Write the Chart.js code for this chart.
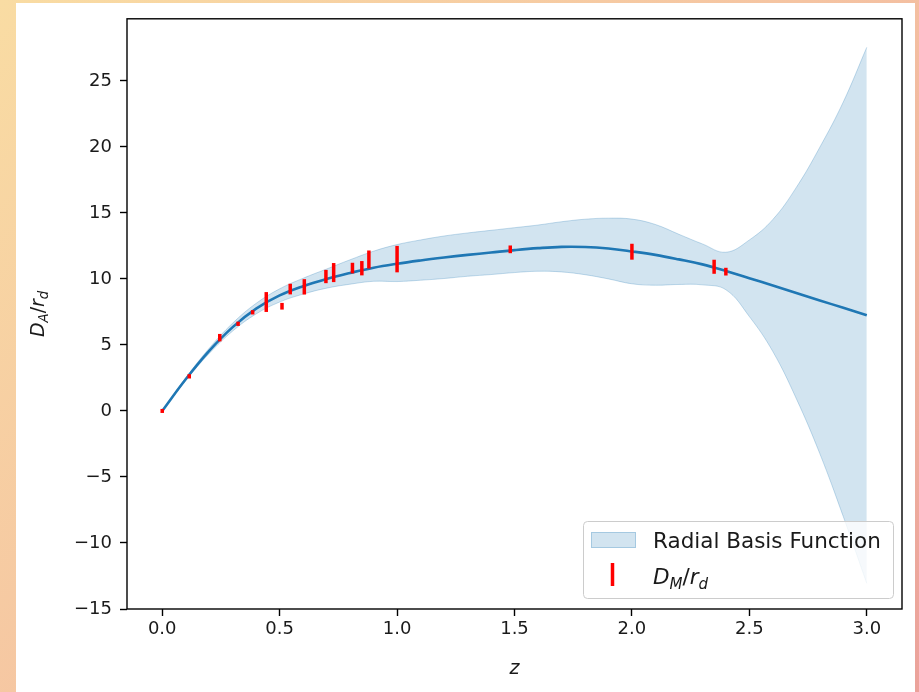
<!DOCTYPE html>
<html>
<head>
<meta charset="utf-8">
<script src="https://cdn.jsdelivr.net/npm/chart.js@4.4.1/dist/chart.umd.min.js"></script>
<style>
  html, body { margin: 0; padding: 0; }
  body {
    width: 919px; height: 692px; overflow: hidden; position: relative;
    background: linear-gradient(135deg, #f9dca3 0%, #f5c4a2 50%, #eba29b 100%);
  }
  #panel { position: absolute; left: 16px; top: 3px; width: 899px; height: 689px; background: #fff; }
  #chart { position: absolute; left: 0; top: 0; }
</style>
</head>
<body>
<div id="panel"></div>
<canvas id="chart" width="919" height="692"></canvas>
<script>
// redshift grid of the RBF reconstruction
const zGrid = [0.0, 0.1, 0.2, 0.3, 0.4, 0.5, 0.6, 0.7, 0.8, 0.9, 1.0,
               1.1, 1.2, 1.3, 1.4, 1.5, 1.6, 1.7, 1.8, 1.9, 2.0,
               2.1, 2.2, 2.3, 2.4, 2.5, 2.6, 2.7, 2.8, 2.9, 3.0];
// mean D_A/r_d
const rbfMean = [0.0, 2.4, 4.55, 6.35, 7.75, 8.75, 9.45, 10.0, 10.45, 10.85, 11.15,
                 11.4, 11.62, 11.82, 12.0, 12.18, 12.33, 12.43, 12.42, 12.3, 12.08,
                 11.82, 11.48, 11.1, 10.6, 10.05, 9.5, 8.93, 8.37, 7.81, 7.24];
// confidence band
const rbfUpper = [0.0, 2.5, 4.75, 6.65, 8.15, 9.25, 10.05, 10.75, 11.45, 12.1, 12.6,
                  12.95, 13.25, 13.48, 13.68, 13.88, 14.08, 14.33, 14.52, 14.6, 14.53,
                  14.12, 13.38, 12.65, 12.02, 12.95, 14.5, 16.93, 19.97, 23.4, 27.54];
const rbfLower = [0.0, 2.3, 4.35, 6.05, 7.35, 8.25, 8.85, 9.3, 9.6, 9.82, 9.8,
                  9.9, 10.03, 10.2, 10.33, 10.48, 10.58, 10.53, 10.32, 10.0, 9.63,
                  9.52, 9.58, 9.55, 9.18, 7.15, 4.5, 0.93, -3.23, -8.0, -13.06];

// BAO measurements D_M/r_d with 1-sigma errors
const obsZ   = [0.0, 0.115, 0.245, 0.323, 0.385, 0.443, 0.51, 0.545, 0.605, 0.697,
                0.73, 0.81, 0.85, 0.88, 1.0, 1.482, 2.0, 2.35, 2.4];
const obsVal = [0.0, 2.62, 5.55, 6.6, 7.47, 8.25, 7.93, 9.23, 9.4, 10.18,
                10.48, 10.82, 10.81, 11.47, 11.5, 12.24, 12.06, 10.92, 10.55];
const obsErr = [0.02, 0.03, 0.15, 0.03, 0.03, 0.62, 0.12, 0.27, 0.45, 0.37,
                0.59, 0.27, 0.41, 0.55, 0.87, 0.16, 0.47, 0.4, 0.16];

const xTicks = [0.0, 0.5, 1.0, 1.5, 2.0, 2.5, 3.0];
const yTicks = [-15, -10, -5, 0, 5, 10, 15, 20, 25];

const BLUE = '#1f77b4';
const BAND = 'rgba(31,119,180,0.2)';
const FONT = 'DejaVu Sans';

const toPoints = (xs, ys) => xs.map((x, i) => ({ x: x, y: ys[i] }));

// draws a small mathtext-like string: [text, subscript?, italic?]
function mathWidth(ctx, parts, size) {
  let w = 0;
  parts.forEach(p => {
    const s = p[1] ? size * 0.7 : size;
    ctx.font = (p[2] ? 'italic ' : '') + s + 'px "' + FONT + '"';
    w += ctx.measureText(p[0]).width;
  });
  return w;
}
function drawMath(ctx, parts, x, y, size) {
  let cx = x;
  parts.forEach(p => {
    const s = p[1] ? size * 0.7 : size;
    ctx.font = (p[2] ? 'italic ' : '') + s + 'px "' + FONT + '"';
    ctx.fillText(p[0], cx, p[1] ? y + size * 0.22 : y);
    cx += ctx.measureText(p[0]).width;
  });
}

const labelDA = [['D', false, true], ['A', true, true], ['/', false, false], ['r', false, true], ['d', true, true]];
const labelDM = [['D', false, true], ['M', true, true], ['/', false, false], ['r', false, true], ['d', true, true]];

const decor = {
  id: 'decor',
  afterDatasetsDraw(chart) {
    const ctx = chart.ctx, xs = chart.scales.x, ys = chart.scales.y;
    ctx.save();
    ctx.strokeStyle = '#ff0000';
    ctx.lineWidth = 3.5;
    ctx.lineCap = 'square';
    obsZ.forEach((z, i) => {
      const px = xs.getPixelForValue(z);
      ctx.beginPath();
      ctx.moveTo(px, ys.getPixelForValue(obsVal[i] - obsErr[i]));
      ctx.lineTo(px, ys.getPixelForValue(obsVal[i] + obsErr[i]));
      ctx.stroke();
    });
    ctx.restore();
  },
  afterDraw(chart) {
    const ctx = chart.ctx, a = chart.chartArea;
    ctx.save();
    // axes frame
    ctx.strokeStyle = '#000';
    ctx.lineWidth = 1.4;
    ctx.strokeRect(a.left, a.top, a.right - a.left, a.bottom - a.top);

    // legend
    const lx = a.right - 319, ly = a.bottom - 88, lw = 310, lh = 77;
    ctx.beginPath();
    ctx.roundRect(lx + 0.5, ly + 0.5, lw, lh, 4);
    ctx.fillStyle = 'rgba(255,255,255,0.8)';
    ctx.fill();
    ctx.strokeStyle = '#cccccc';
    ctx.lineWidth = 1;
    ctx.stroke();

    ctx.fillStyle = BAND;
    ctx.fillRect(lx + 8, ly + 11, 45, 16);
    ctx.strokeStyle = 'rgba(31,119,180,0.25)';
    ctx.strokeRect(lx + 8.5, ly + 11.5, 44, 15);

    ctx.strokeStyle = '#ff0000';
    ctx.lineWidth = 3.5;
    ctx.beginPath();
    ctx.moveTo(lx + 29.5, ly + 42);
    ctx.lineTo(lx + 29.5, ly + 65);
    ctx.stroke();

    ctx.fillStyle = '#1a1a1a';
    ctx.textBaseline = 'alphabetic';
    ctx.textAlign = 'left';
    ctx.font = '21.5px "' + FONT + '"';
    ctx.fillText('Radial Basis Function', lx + 70, ly + 27);
    drawMath(ctx, labelDM, lx + 70, ly + 63, 21.5);

    // x axis title
    ctx.font = 'italic 19px "' + FONT + '"';
    ctx.textAlign = 'center';
    ctx.fillText('z', (a.left + a.right) / 2, 674);

    // y axis title
    ctx.textAlign = 'left';
    ctx.translate(44, (a.top + a.bottom) / 2);
    ctx.rotate(-Math.PI / 2);
    const w = mathWidth(ctx, labelDA, 19);
    drawMath(ctx, labelDA, -w / 2, 0, 19);
    ctx.restore();
  }
};

const tickGrid = { display: true, drawOnChartArea: false, drawTicks: true, tickLength: 7, tickWidth: 1.4, tickColor: '#000' };

new Chart(document.getElementById('chart'), {
  type: 'line',
  data: {
    datasets: [
      {
        data: toPoints(zGrid, rbfUpper),
        borderColor: 'rgba(31,119,180,0.25)', borderWidth: 1,
        backgroundColor: BAND, fill: '+1',
        pointRadius: 0, tension: 0.4, order: 3
      },
      {
        data: toPoints(zGrid, rbfLower),
        borderColor: 'rgba(31,119,180,0.25)', borderWidth: 1,
        fill: false, pointRadius: 0, tension: 0.4, order: 3
      },
      {
        data: toPoints(zGrid, rbfMean),
        borderColor: BLUE, borderWidth: 2.6, fill: false,
        pointRadius: 0, tension: 0.4, order: 1
      }
    ]
  },
  options: {
    responsive: false,
    animation: false,
    devicePixelRatio: 1,
    layout: { padding: { top: 18, right: 17, left: 0, bottom: 0 } },
    plugins: { legend: { display: false }, tooltip: { enabled: false } },
    scales: {
      x: {
        type: 'linear', min: -0.15, max: 3.15,
        grid: tickGrid, border: { display: false },
        afterBuildTicks: s => { s.ticks = xTicks.map(v => ({ value: v })); },
        afterFit: s => { s.height = 83; },
        ticks: {
          padding: 3, color: '#1a1a1a', font: { family: FONT, size: 18 },
          maxRotation: 0, callback: v => v.toFixed(1)
        }
      },
      y: {
        type: 'linear', min: -15.0, max: 29.7,
        grid: tickGrid, border: { display: false },
        afterBuildTicks: s => { s.ticks = yTicks.map(v => ({ value: v })); },
        afterFit: s => { s.width = 127; },
        ticks: {
          padding: 8, color: '#1a1a1a', font: { family: FONT, size: 18 },
          callback: v => (v < 0 ? '\u2212' + Math.abs(v) : String(v))
        }
      }
    }
  },
  plugins: [decor]
});
</script>
</body>
</html>
